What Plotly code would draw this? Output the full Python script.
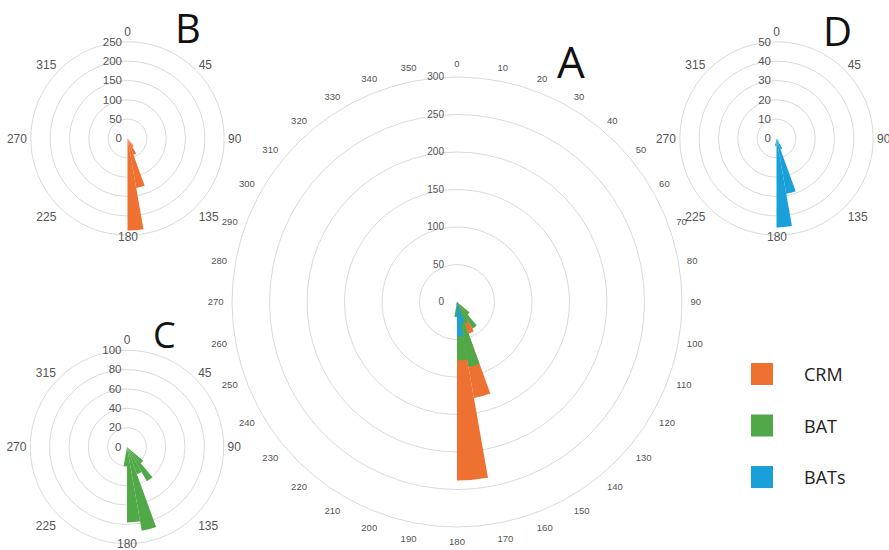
import plotly.graph_objects as go

# ---- data ----
bin_centers = [135, 145, 155, 165, 175, 185]   # direction bins (deg), 10 deg wide
crm = [0, 25, 45, 130, 238, 3]
bat = [22, 41, 30, 88, 78, 20]
bats = [0, 2, 6, 29, 46, 4]

series_names = ["CRM", "BAT", "BATs"]
series_colors = ["#EE7131", "#50A848", "#1AA0D8"]

angular_ticks_a = list(range(0, 360, 10))
angular_ticks_small = list(range(0, 360, 45))
radial_ticks_a = [0, 50, 100, 150, 200, 250, 300]
radial_ticks_b = [0, 50, 100, 150, 200, 250]
radial_ticks_c = [0, 20, 40, 60, 80, 100]
radial_ticks_d = [0, 10, 20, 30, 40, 50]
panel_letters = ["A", "B", "C", "D"]
south_label = "180"

W, H = 889, 550
BIN_WIDTH = 10
GRID = "#DADADA"
LABEL = "#555555"

# small panels: the "180" label sits on the outer ring (as in the reference),
# so it is drawn as an annotation and left blank on the axis
small_ticktext = ["" if str(v) == south_label else str(v) for v in angular_ticks_small]


def dom(cx, cy, r):
    return dict(x=[(cx - r) / W, (cx + r) / W], y=[1 - (cy + r) / H, 1 - (cy - r) / H])


def polar(domain, rmax, rticks, aticks, aticktext, afont, rfont, aticklen, rticklen):
    return dict(
        domain=domain,
        bgcolor="white",
        barmode="overlay",
        hole=0,
        radialaxis=dict(
            range=[0, rmax], tickvals=rticks, angle=90, side="counterclockwise",
            tickangle=90, showline=False, ticks="outside", ticklen=rticklen,
            tickcolor="rgba(0,0,0,0)", gridcolor=GRID, gridwidth=1,
            tickfont=dict(family="Liberation Sans", size=rfont, color=LABEL),
            layer="below traces",
        ),
        angularaxis=dict(
            rotation=90, direction="clockwise", tickvals=aticks, ticktext=aticktext,
            showgrid=False, showline=True, linecolor=GRID, linewidth=1, ticks="outside",
            ticklen=aticklen, tickcolor="rgba(0,0,0,0)",
            tickfont=dict(family="Liberation Sans", size=afont, color=LABEL),
            layer="below traces",
        ),
    )


fig = go.Figure()
series_values = [crm, bat, bats]

# A: all three series overlaid
for name, vals, col in zip(series_names, series_values, series_colors):
    fig.add_trace(go.Barpolar(r=vals, theta=bin_centers, width=BIN_WIDTH, name=name,
                              marker=dict(color=col, line=dict(width=0)),
                              subplot="polar", showlegend=False))
# B, C, D: one series each
for sp, name, vals, col in zip(["polar2", "polar3", "polar4"], series_names,
                               series_values, series_colors):
    fig.add_trace(go.Barpolar(r=vals, theta=bin_centers, width=BIN_WIDTH, name=name,
                              marker=dict(color=col, line=dict(width=0)),
                              subplot=sp, showlegend=False))

R_SMALL = 96.7
small_centers = [(127.5, 138.5), (127, 447), (776.5, 138.5)]
south_offsets = [2, 0, 2]

fig.update_layout(
    width=W, height=H,
    margin=dict(l=0, r=0, t=0, b=0),
    paper_bgcolor="white",
    showlegend=False,
    polar=polar(dom(457, 302, 225), 300, radial_ticks_a, angular_ticks_a,
                [str(v) for v in angular_ticks_a], 9.5, 10, 6, 9),
    polar2=polar(dom(*small_centers[0], R_SMALL), 250, radial_ticks_b, angular_ticks_small,
                 small_ticktext, 12, 11.5, 1, 1),
    polar3=polar(dom(*small_centers[1], R_SMALL), 100, radial_ticks_c, angular_ticks_small,
                 small_ticktext, 12, 11.5, 1, 1),
    polar4=polar(dom(*small_centers[2], R_SMALL), 50, radial_ticks_d, angular_ticks_small,
                 small_ticktext, 12, 11.5, 1, 1),
)

for (cx, cy), off in zip(small_centers, south_offsets):
    fig.add_annotation(x=cx / W, y=1 - (cy + R_SMALL + off) / H, xref="paper", yref="paper",
                       text=south_label, showarrow=False, xanchor="center", yanchor="middle",
                       font=dict(family="Liberation Sans", size=12, color=LABEL))

# panel letters
letter_pos = [(571, 61, 44), (187.5, 28, 40), (164, 334, 36), (837.5, 30, 40)]
for letter, (x, y, s) in zip(panel_letters, letter_pos):
    fig.add_annotation(x=x / W, y=1 - y / H, xref="paper", yref="paper", text=letter,
                       showarrow=False, xanchor="center", yanchor="middle",
                       font=dict(family="Open Sans", size=s, color="#111111"))

# legend (coloured squares + names)
legend_y = [374, 425.5, 477]
for name, col, y in zip(series_names, series_colors, legend_y):
    fig.add_shape(type="rect", xref="paper", yref="paper",
                  x0=751 / W, x1=773 / W, y0=1 - (y + 11) / H, y1=1 - (y - 11) / H,
                  fillcolor=col, line=dict(width=0))
    fig.add_annotation(x=802 / W, y=1 - y / H, xref="paper", yref="paper", text=name,
                       showarrow=False, xanchor="left", yanchor="middle",
                       font=dict(family="Open Sans", size=18, color="#222222"))

fig.write_html("out.html", config={"displayModeBar": False},
               post_script="document.body.style.margin='0';")
